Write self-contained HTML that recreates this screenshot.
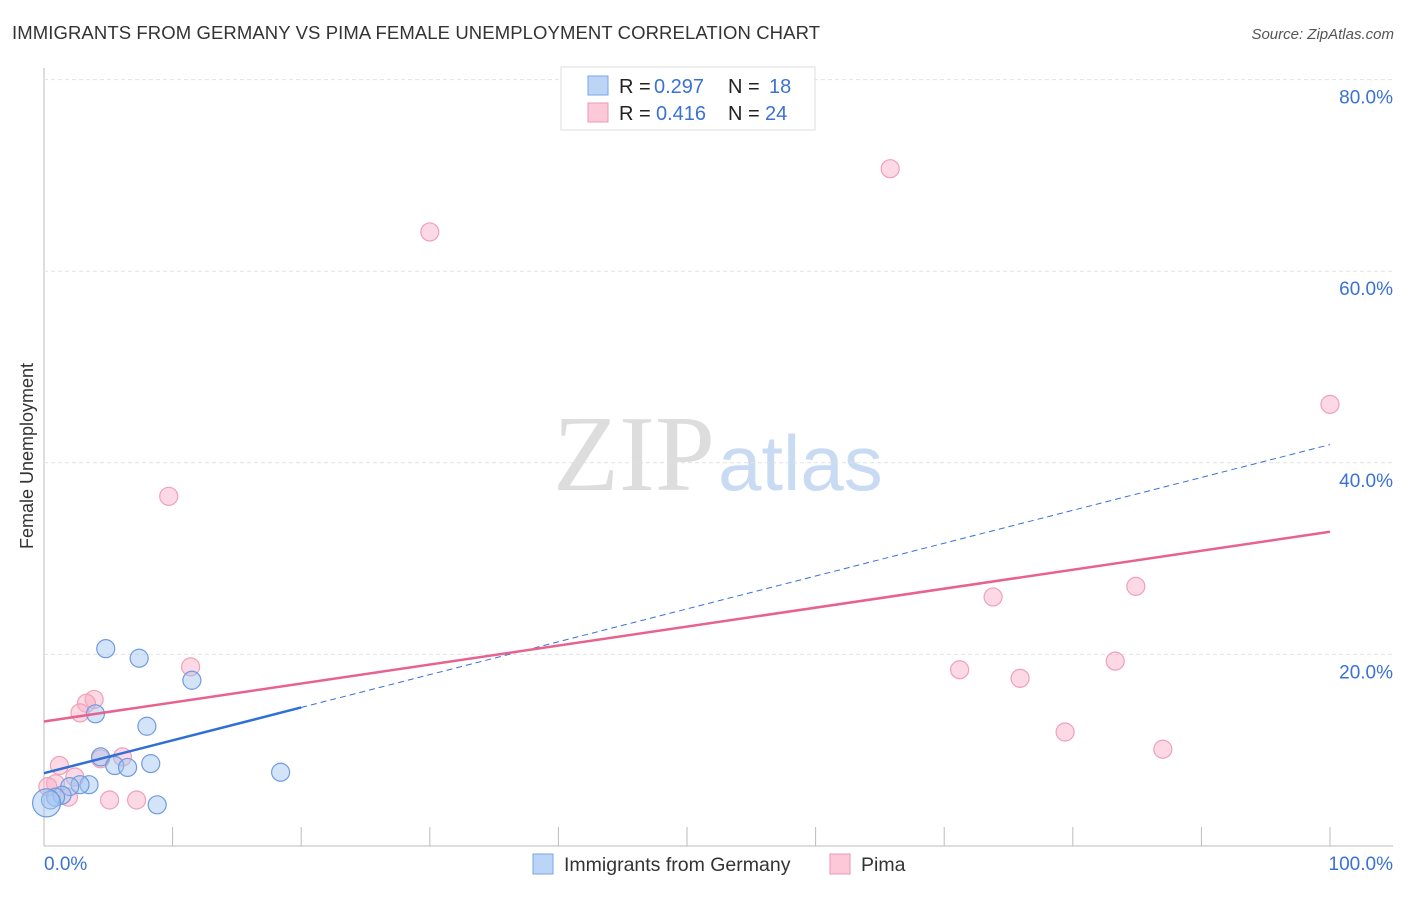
<!DOCTYPE html>
<html><head><meta charset="utf-8"><style>
body{margin:0;background:#fff;font-family:"Liberation Sans",sans-serif}
</style></head><body>
<svg id="c" width="1406" height="892" xmlns="http://www.w3.org/2000/svg" font-family="Liberation Sans, sans-serif">
<text x="12" y="39" font-size="18.5" fill="#333" textLength="808">IMMIGRANTS FROM GERMANY VS PIMA FEMALE UNEMPLOYMENT CORRELATION CHART</text>
<text x="1394" y="39" font-size="15" fill="#555" font-style="italic" text-anchor="end">Source: ZipAtlas.com</text>
<text x="0" y="0" transform="translate(33,456) rotate(-90)" font-size="18" fill="#333" text-anchor="middle">Female Unemployment</text>
<text x="553" y="490" font-size="108" fill="#ddd" font-family="Liberation Serif, serif">ZIP</text>
<text x="718" y="490" font-size="78" fill="#c9dbf3">atlas</text>
<g id="grid"></g><g id="marks"></g>
<g>
<rect x="561" y="67" width="254" height="63" fill="#fff" stroke="#ddd"/>
<rect x="588" y="76" width="20" height="19" fill="#bcd5f7" stroke="#7aa6e6"/>
<rect x="588" y="103" width="20" height="19" fill="#fcc9d8" stroke="#f097b4"/>
<text x="619" y="93" font-size="20" fill="#222">R =</text><text x="654" y="93" font-size="20" fill="#3a72d4">0.297</text>
<text x="728" y="93" font-size="20" fill="#222">N =</text><text x="769" y="93" font-size="20" fill="#3a72d4">18</text>
<text x="619" y="120" font-size="20" fill="#222">R =</text><text x="656" y="120" font-size="20" fill="#3a72d4">0.416</text>
<text x="728" y="120" font-size="20" fill="#222">N =</text><text x="765" y="120" font-size="20" fill="#3a72d4">24</text>
</g>
<g>
<rect x="533" y="854" width="20" height="20" fill="#bcd5f7" stroke="#7aa6e6"/>
<text x="564" y="871" font-size="19.5" fill="#333">Immigrants from Germany</text>
<rect x="830" y="854" width="20" height="20" fill="#fcc9d8" stroke="#f097b4"/>
<text x="861" y="871" font-size="19.5" fill="#333">Pima</text>
</g>
</svg>
<script>
const yTicks=[20,40,60,80];
const yTickLabels=["20.0%","40.0%","60.0%","80.0%"];
const blueX=[4.8,7.4,11.5,4.0,8.0,4.4,5.5,6.5,8.3,18.4,8.8,3.5,2.8,2.0,1.4,0.9,0.5,0.2];
const blueY=[20.6,19.6,17.3,13.8,12.5,9.3,8.4,8.2,8.6,7.7,4.3,6.4,6.4,6.2,5.3,5.1,4.8,4.5];
const pinkX=[65.8,30.0,9.7,100,11.4,3.9,3.3,2.8,6.1,4.4,1.2,2.4,0.9,0.3,1.9,5.1,7.2,73.8,84.9,71.2,75.9,83.3,79.4,87.0];
const pinkY=[70.7,64.1,36.5,46.1,18.7,15.3,14.9,13.9,9.3,9.1,8.4,7.2,6.5,6.2,5.1,4.8,4.8,26.0,27.1,18.4,17.5,19.3,11.9,10.1];
const blueTrend=[7.6,41.9];
const pinkTrend=[13.0,32.8];
const X=v=>44+v*12.86, Y=v=>846-v*9.58;
const NS="http://www.w3.org/2000/svg";
function mk(t,a,p){const e=document.createElementNS(NS,t);for(const k in a)e.setAttribute(k,a[k]);p.appendChild(e);return e;}
const g=document.getElementById('grid'),m=document.getElementById('marks');
mk('line',{x1:44,y1:68,x2:44,y2:846,stroke:'#bbb'},g);
mk('line',{x1:44,y1:846,x2:1393,y2:846,stroke:'#bbb'},g);
for(let i=1;i<=10;i++){const t=mk('line',{x1:X(i*10),y1:827,x2:X(i*10),y2:846,stroke:'#bbb'},g);}
yTicks.forEach((v,i)=>{const l=mk('line',{x1:44,y1:Y(v),x2:1393,y2:Y(v),stroke:'#e2e2e2','stroke-dasharray':'4,3'},g);

const t=mk('text',{x:1393,y:Y(v)+24,'font-size':19,fill:'#3a72d4','text-anchor':'end'},g);t.textContent=yTickLabels[i];
});
const x0=mk('text',{x:44,y:870,'font-size':19,fill:'#3a72d4'},g);x0.textContent='0.0%';

const x1=mk('text',{x:1393,y:870,'font-size':19,fill:'#3a72d4','text-anchor':'end'},g);x1.textContent='100.0%';

pinkX.forEach((v,i)=>{const c=mk('circle',{cx:X(v),cy:Y(pinkY[i]),r:9,fill:'rgba(248,170,195,0.45)',stroke:'#f0a0b8','stroke-width':1.2},m);
});
blueX.forEach((v,i)=>{const c=mk('circle',{cx:X(v),cy:Y(blueY[i]),r:i==17?14:9,fill:'rgba(160,195,240,0.45)',stroke:'#6e9be0','stroke-width':1.2},m);
});
const bt=v=>blueTrend[0]+(blueTrend[1]-blueTrend[0])*v/100, pt=v=>pinkTrend[0]+(pinkTrend[1]-pinkTrend[0])*v/100;
let l=mk('line',{x1:X(20),y1:Y(bt(20)),x2:X(100),y2:Y(bt(100)),stroke:'#3a72d4','stroke-width':1,'stroke-dasharray':'6,4'},m);

l=mk('line',{x1:X(0),y1:Y(bt(0)),x2:X(20),y2:Y(bt(20)),stroke:'#2f6fd6','stroke-width':2.5},m);

l=mk('line',{x1:X(0),y1:Y(pt(0)),x2:X(100),y2:Y(pt(100)),stroke:'#e8628e','stroke-width':2.5},m);

</script>
</body></html>
